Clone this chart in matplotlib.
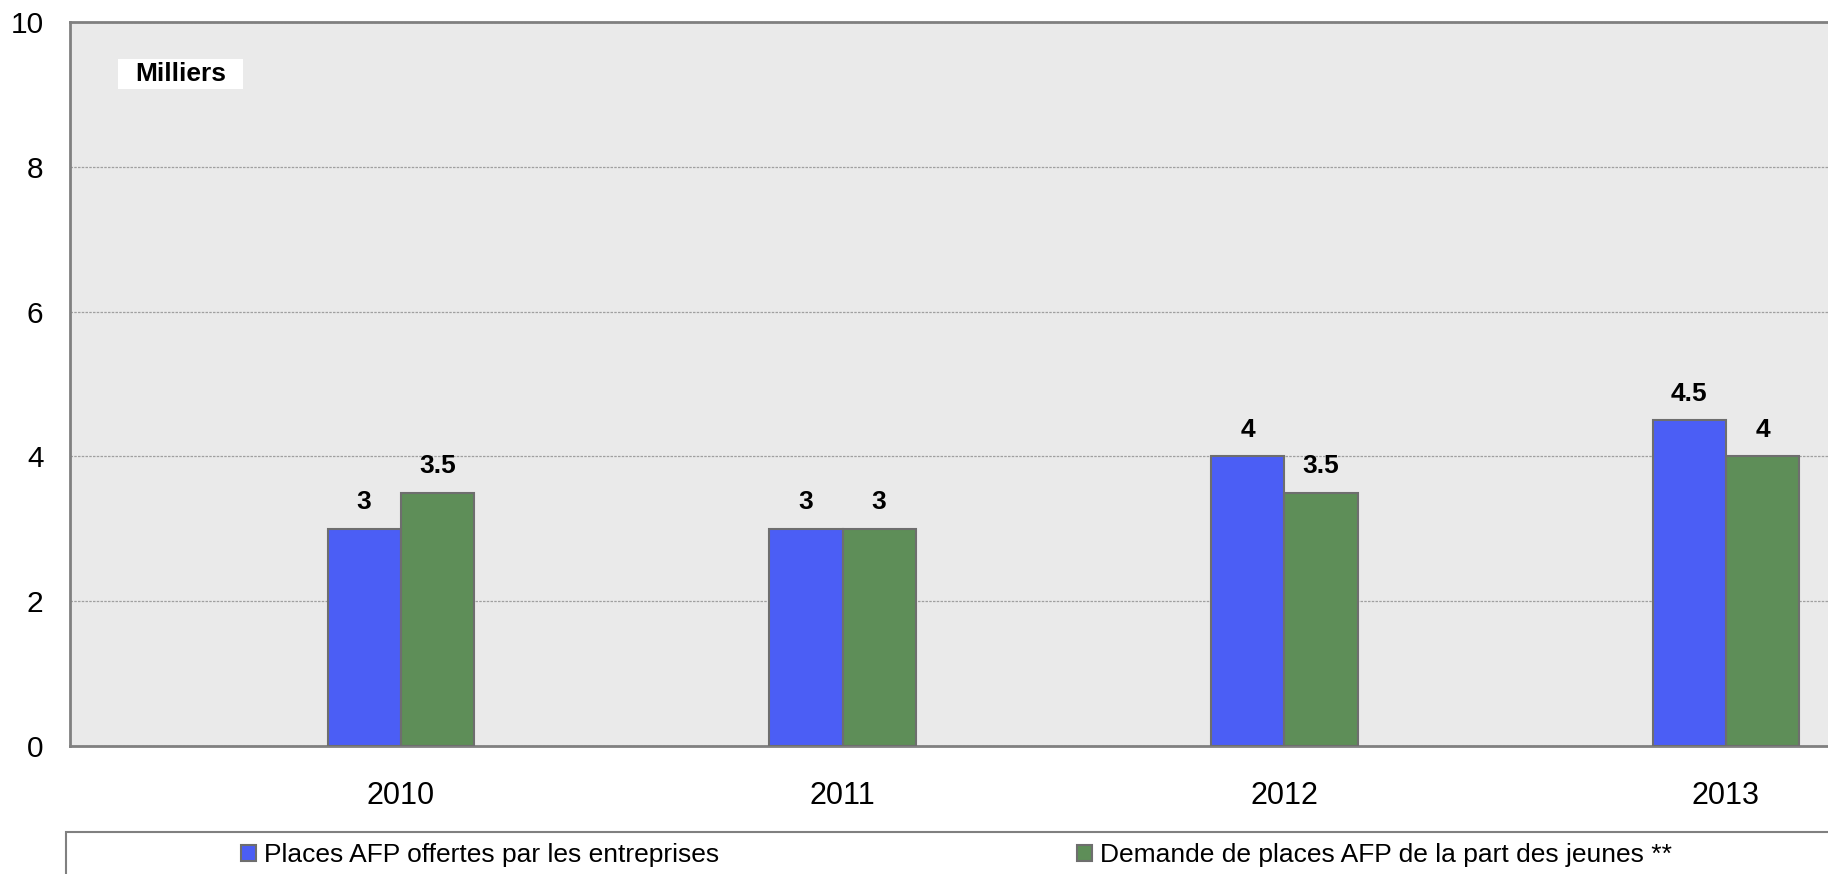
import matplotlib
matplotlib.use('Agg')
import matplotlib.pyplot as plt
from matplotlib.patches import Rectangle
import numpy as np

plt.rcParams['font.family'] = ['Liberation Sans', 'DejaVu Sans']

# Data
years = ['2010', '2011', '2012', '2013']
offered = [3, 3, 4, 4.5]
demand = [3.5, 3, 3.5, 4]
offered_labels = ['3', '3', '4', '4.5']
demand_labels = ['3.5', '3', '3.5', '4']
series_names = ['Places AFP offertes par les entreprises',
                'Demande de places AFP de la part des jeunes **']

blue = '#4B5EF5'
green = '#5E8E58'
edge = '#6E6E6E'

fig = plt.figure(figsize=(18.28, 8.74), dpi=100)
ax = fig.add_axes([70 / 1828, 128 / 874, 1 - 70 / 1828, 724 / 874])
ax.set_facecolor('#EAEAEA')

x = np.arange(len(years))
w = 0.166
b1 = ax.bar(x - w / 2, offered, w, color=blue, edgecolor=edge, linewidth=1.5, zorder=3)
b2 = ax.bar(x + w / 2, demand, w, color=green, edgecolor=edge, linewidth=1.5, zorder=3)

for bars, labs in ((b1, offered_labels), (b2, demand_labels)):
    for rect, lab in zip(bars, labs):
        ax.annotate(lab, (rect.get_x() + rect.get_width() / 2, rect.get_height()),
                    xytext=(0, 19), textcoords='offset points', ha='center', va='center',
                    fontsize=19, fontweight='bold')

ax.set_xlim(-0.749, 3.231)
ax.set_ylim(0, 10)
ax.set_yticks([0, 2, 4, 6, 8, 10])
ax.set_yticklabels(['0', '2', '4', '6', '8', '10'])
ax.set_xticks(x)
ax.set_xticklabels(years)
ax.tick_params(axis='y', length=0, pad=19, labelsize=21.5)
ax.tick_params(axis='x', length=0, pad=25, labelsize=22)

ax.yaxis.grid(True, color='#A0A0A0', linestyle=(0, (2, 1)), linewidth=0.9, zorder=0)
ax.set_axisbelow(True)
for side in ('left', 'bottom', 'top'):
    ax.spines[side].set_color('#808080')
    ax.spines[side].set_linewidth(2)
ax.spines['right'].set_visible(False)

# "Milliers" unit label on a white box
ax.add_patch(Rectangle((0.0273, 0.9075), 0.0711, 0.0415, transform=ax.transAxes,
                       facecolor='white', edgecolor='none', zorder=4))
ax.text(0.0628, 0.928, 'Milliers', transform=ax.transAxes, ha='center', va='center',
        fontsize=19, fontweight='bold', zorder=5)

# legend frame
fig.patches.append(Rectangle((66 / 1828, -0.1), 1.0, 42 / 874 + 0.1, transform=fig.transFigure,
                             fill=False, edgecolor='#808080', linewidth=1.5))
leg1 = fig.legend(handles=[b1], labels=[series_names[0]], loc='center left',
                  bbox_to_anchor=(241 / 1828, 19 / 874), frameon=False, fontsize=19,
                  handlelength=0.57, handleheight=0.57, handletextpad=0.3, borderpad=0,
                  borderaxespad=0)
leg2 = fig.legend(handles=[b2], labels=[series_names[1]], loc='center left',
                  bbox_to_anchor=(1077 / 1828, 19 / 874), frameon=False, fontsize=19,
                  handlelength=0.57, handleheight=0.57, handletextpad=0.3, borderpad=0,
                  borderaxespad=0)

fig.savefig('out.png', dpi=100)
